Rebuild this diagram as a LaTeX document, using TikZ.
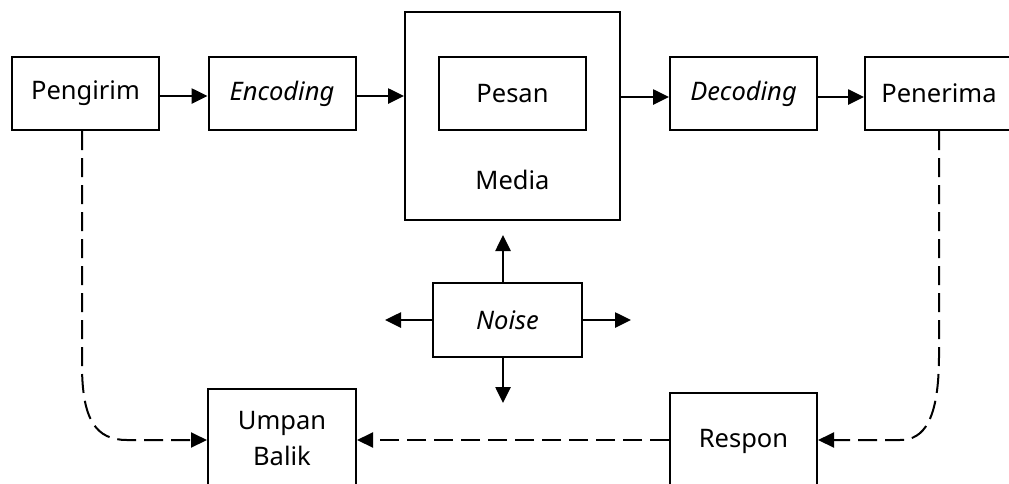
\documentclass[tikz,border=0pt]{standalone}
\usepackage{fontspec}
\setmainfont{Noto Sans}
\usetikzlibrary{arrows.meta}
\begin{document}
\begin{tikzpicture}[x=1pt,y=-1pt,
  every node/.style={font=\fontsize{25.5}{36}\selectfont},
  box/.style={draw,line width=2pt,minimum width=147pt,minimum height=73pt,inner sep=0pt,align=center},
  flow/.style={line width=2.6pt,-{Triangle[length=16pt,width=15pt]}},
  fb/.style={line width=2pt,dash pattern=on 19pt off 8pt,-{Triangle[length=16pt,width=15pt]}}]
\useasboundingbox (0,0) rectangle (1009,483);
\clip (0,0) rectangle (1009,483);
\fill[white] (0,0) rectangle (1009,483);
% top row
\node[box] (pengirim) at (85.5,93.5) {Pengirim};
\node[box] (encoding) at (282,93.5) {\itshape Encoding};
\node[box,minimum width=215pt,minimum height=208pt] (media) at (512.5,116) {};
\node[box] (pesan) at (512.5,93.5) {Pesan};
\node (medialabel) at (512.5,180) {Media};
\node[box] (decoding) at (743.5,93.5) {\itshape Decoding};
\node[box,minimum width=148pt] (penerima) at (939,93.5) {Penerima};
% noise in the middle
\node[box,minimum width=149pt,minimum height=74pt] (noise) at (507.5,320) {\itshape Noise};
% bottom row
\node[box,minimum width=148pt,minimum height=100pt] (umpan) at (282,439) {Umpan\\Balik};
\node[box,minimum width=147pt,minimum height=97pt] (respon) at (743.5,441.5) {Respon};
% forward flow
\draw[flow] (pengirim.east |- 0,96) -- (encoding.west |- 0,96);
\draw[flow] (encoding.east |- 0,96) -- (media.west |- 0,96);
\draw[flow] (media.east |- 0,97) -- (decoding.west |- 0,97);
\draw[flow] (decoding.east |- 0,97) -- (penerima.west |- 0,97);
% noise spreading outwards
\coordinate (nup) at (503,235);
\coordinate (ndown) at (503,403);
\coordinate (nleft) at (385,320);
\coordinate (nright) at (631,320);
\draw[flow] (noise.north -| nup) -- (nup);
\draw[flow] (noise.south -| ndown) -- (ndown);
\draw[flow] (noise.west) -- (nleft);
\draw[flow] (noise.east) -- (nright);
% feedback loop with drawn-out bends
\coordinate (lbend) at (82,365);
\coordinate (lend) at (127,440);
\coordinate (rbend) at (939,355);
\coordinate (rend) at (900,440);
\draw[fb] (pengirim.south -| lbend) -- (lbend)
  .. controls (82,420) and (96,440) .. (lend) -- (umpan.west |- lend);
\draw[fb] (penerima.south) -- (rbend)
  .. controls (939,420) and (924,440) .. (rend) -- (respon.east |- rend);
\draw[fb] (respon.west |- lend) -- (umpan.east |- lend);
\end{tikzpicture}
\end{document}
